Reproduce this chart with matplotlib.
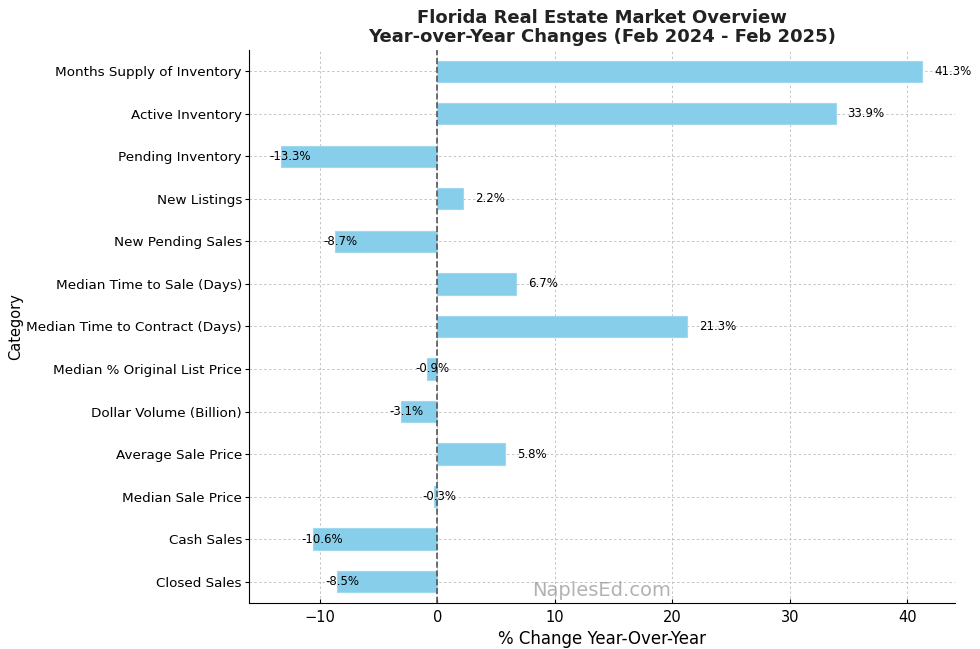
import matplotlib
matplotlib.use("Agg")
import matplotlib.pyplot as plt

categories = ["Closed Sales", "Cash Sales", "Median Sale Price", "Average Sale Price",
              "Dollar Volume (Billion)", "Median % Original List Price",
              "Median Time to Contract (Days)", "Median Time to Sale (Days)",
              "New Pending Sales", "New Listings", "Pending Inventory",
              "Active Inventory", "Months Supply of Inventory"]
changes = [-8.5, -10.6, -0.3, 5.8, -3.1, -0.9, 21.3, 6.7, -8.7, 2.2, -13.3, 33.9, 41.3]
xticks = [-10, 0, 10, 20, 30, 40]

fig = plt.figure(figsize=(9.8, 6.49), dpi=100)
ax = fig.add_axes([0.254, 0.071, 0.72, 0.852])

pos = list(range(len(categories)))
ax.barh(pos, changes, height=0.5, color="#87CEEB", edgecolor="#9fd8ef", linewidth=0.8, zorder=2)
ax.axvline(0, color="#555555", linestyle="--", linewidth=1.2, zorder=3)

for i, v in enumerate(changes):
    ax.text(v + 1 if v > 0 else v - 1, i, f"{v}%", va="center", ha="left", fontsize=8.5, zorder=4)

ax.set_yticks(pos)
ax.set_yticklabels(categories, fontsize=9.7)
ax.set_xticks(xticks)
ax.tick_params(axis="x", labelsize=10.5, direction="in", length=3, pad=5)
ax.tick_params(axis="y", direction="out", length=3, pad=2)
ax.set_ylim(-0.5, len(categories) - 0.5)
ax.margins(x=0.05)
ax.grid(True, linestyle=(0, (2.5, 2.5)), color="#c4c4c4", linewidth=0.7, zorder=0)
ax.set_axisbelow(True)
for s in ["top", "right"]:
    ax.spines[s].set_visible(False)

ax.set_xlabel("% Change Year-Over-Year", fontsize=12)
ax.set_ylabel("Category", fontsize=10.5, labelpad=2)
ax.set_title("Florida Real Estate Market Overview\nYear-over-Year Changes (Feb 2024 - Feb 2025)",
             fontsize=13, fontweight="bold", color="#222222", pad=6, linespacing=1.05)

ax.text(0.5, 0.005, "NaplesEd.com", transform=ax.transAxes, ha="center", va="bottom",
        fontsize=14, color="gray", alpha=0.6)

fig.savefig("out.png", dpi=100)
